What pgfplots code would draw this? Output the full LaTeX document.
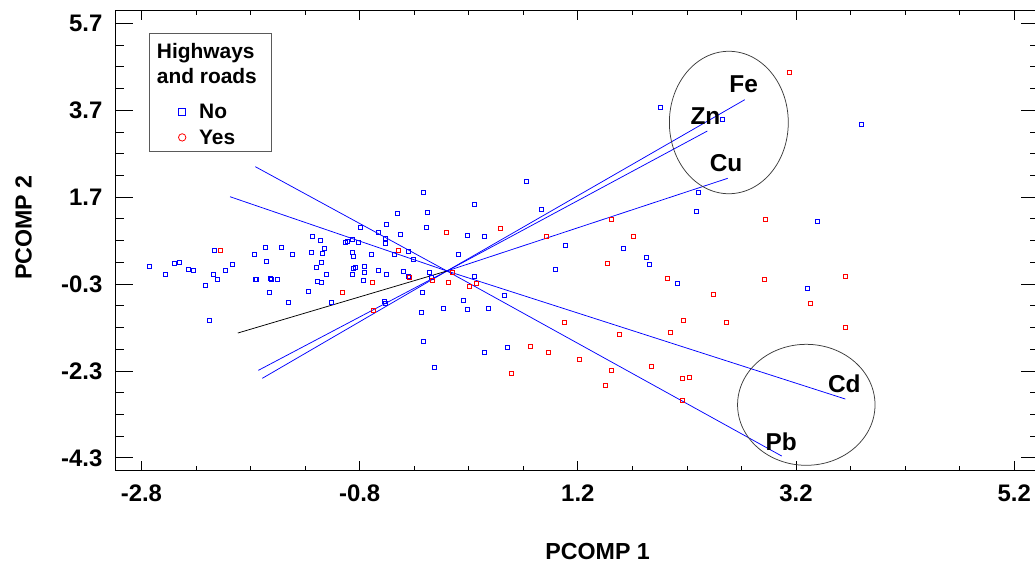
\documentclass[border=0pt]{standalone}
\usepackage{fontspec}
\setmainfont{Liberation Sans}
\usepackage{pgfplots}
\pgfplotsset{compat=1.18}
\definecolor{ptblue}{RGB}{0,0,255}
\definecolor{ptred}{RGB}{255,0,0}
\definecolor{ellgray}{RGB}{60,60,60}
\definecolor{boxgray}{RGB}{90,90,90}
\pgfplotsset{single mark legend/.style={legend image code/.code={\draw[##1] plot coordinates {(0bp,1.8bp)};}}}
\begin{document}
\begin{tikzpicture}
\begin{axis}[
  scale only axis, width=923.3bp, height=459.3bp,
  xmin=-3.036, xmax=5.427, ymin=-4.58, ymax=5.99,
  xtick={-2.8,-0.8,1.2,3.2,5.2}, xticklabels={-2.8,-0.8,1.2,3.2,5.2},
  ytick={-4.3,-2.3,-0.3,1.7,3.7,5.7}, yticklabels={-4.3,-2.3,-0.3,1.7,3.7,5.7},
  minor x tick num=3, minor y tick num=3,
  tick align=inside,
  axis line style={line width=0.9bp},
  xtick style={black, line width=0.7bp, /pgfplots/major tick length=9.3bp, /pgfplots/minor tick length=4.5bp},
  ytick style={black, line width=0.7bp, /pgfplots/major tick length=17.7bp, /pgfplots/minor tick length=8.7bp},
  ticklabel style={font=\fontsize{24}{24}\selectfont\bfseries},
  xticklabel style={anchor=north, inner sep=0pt, yshift=-15bp},
  yticklabel style={anchor=east, inner sep=0pt, xshift=-13.2bp},
  xlabel={PCOMP 1}, ylabel={PCOMP 2},
  label style={font=\fontsize{23.3}{23.3}\selectfont\bfseries},
  xlabel style={at={(axis description cs:0.522,-0.1938)}, anchor=base},
  ylabel style={at={(axis description cs:-0.0910,0.528)}, anchor=base},
  legend cell align=left,
  legend style={at={(axis description cs:0.0678,0.7984)}, anchor=north west,
    draw=none, fill=none, inner sep=0pt, column sep=13.3bp, row sep=5.7bp,
    font=\fontsize{21}{21}\selectfont\bfseries,
    nodes={inner sep=0pt, text height=15bp, text depth=5bp}},
]
% No (blue)
\addplot[forget plot, only marks, mark=square, mark size=2bp, color=ptblue, mark options={line width=1bp}] coordinates {
(-2.728,0.114) (-2.581,-0.086) (-2.495,0.176) (-2.455,0.199) (-2.366,0.038)
(-2.324,0.000) (-2.211,-0.330) (-2.180,-1.135) (-2.128,0.466) (-2.137,-0.086)
(-2.104,-0.192) (-2.031,0.015) (-1.967,0.160) (-1.768,0.384) (-1.759,-0.185)
(-1.750,-0.185) (-1.664,0.545) (-1.655,0.222) (-1.628,-0.500) (-1.621,-0.178)
(-1.612,-0.185) (-1.554,-0.192) (-1.514,0.545) (-1.450,-0.730) (-1.417,0.384)
(-1.270,-0.477) (-1.245,0.430) (-1.236,0.798) (-1.197,0.091) (-1.188,-0.231)
(-1.160,0.706) (-1.154,0.199) (-1.147,-0.254) (-1.138,0.407) (-1.120,0.506)
(-1.105,-0.070) (-1.056,-0.730) (-0.931,0.651) (-0.909,0.674) (-0.867,0.430)
(-0.861,0.729) (-0.858,0.338) (-0.867,-0.070) (-0.854,0.061) (-0.839,0.091)
(-0.812,0.651) (-0.794,1.005) (-0.769,-0.208) (-0.760,0.114) (-0.760,-0.031)
(-0.689,0.384) (-0.631,0.897) (-0.631,0.000) (-0.574,-0.707) (-0.567,-0.744)
(-0.567,0.637) (-0.564,0.752) (-0.558,1.065) (-0.558,-0.086) (-0.485,0.384)
(-0.451,1.327) (-0.425,0.844) (-0.212,1.801) (0.728,2.064) (-0.179,1.350)
(0.251,1.534) (0.865,1.410) (-0.189,1.005) (0.187,0.812) (0.343,0.789)
(1.085,0.591) (1.617,0.506) (-0.354,0.453) (-0.304,0.268) (0.105,0.384)
(1.832,0.321) (1.853,0.153) (0.991,0.038) (-0.402,-0.008) (-0.350,-0.132)
(-0.164,-0.031) (-0.143,-0.139) (0.251,-0.123) (0.530,-0.560) (-0.222,-0.500)
(0.154,-0.684) (-0.033,-0.868) (-0.231,-0.951) (0.187,-0.891) (0.377,-0.868)
(-0.212,-1.628) (0.343,-1.872) (0.554,-1.757) (-0.115,-2.226) (1.956,3.751)
(2.522,3.491) (3.799,3.382) (2.308,1.801) (2.290,1.373) (3.395,1.143)
(2.112,-0.293) (3.304,-0.408)
};
% Yes (red)
\addplot[forget plot, only marks, mark=square, mark size=2bp, color=ptred, mark options={line width=1bp}] coordinates {
(-2.077,0.466) (-0.959,-0.500) (-0.680,-0.254) (-0.671,-0.915) (-0.443,0.466)
(0.000,0.897) (0.490,0.982) (1.507,1.189) (0.909,0.798) (1.709,0.798)
(1.470,0.176) (-0.345,-0.146) (-0.134,-0.215) (0.047,-0.024) (0.017,-0.254)
(0.206,-0.353) (0.273,-0.293) (1.076,-1.181) (1.578,-1.458) (0.768,-1.734)
(0.933,-1.872) (1.217,-2.042) (1.513,-2.286) (1.456,-2.631) (0.590,-2.348)
(3.142,4.572) (2.919,1.189) (2.020,-0.169) (2.909,-0.192) (3.652,-0.123)
(3.331,-0.744) (2.439,-0.537) (2.167,-1.135) (2.561,-1.175) (2.045,-1.421)
(3.652,-1.297) (1.874,-2.203) (2.158,-2.463) (2.222,-2.447) (2.161,-2.986)
};
% variable vectors
\addplot[forget plot, ptblue, line width=0.75bp] coordinates {(-1.692,-2.470) (0,0) (2.730,3.942)};
\addplot[forget plot, ptblue, line width=0.75bp] coordinates {(-1.728,-2.286) (0,0) (2.387,3.221)};
\addplot[forget plot, ptblue, line width=0.75bp] coordinates {(0,0) (2.574,2.133)};
\addplot[forget plot, black, line width=0.75bp] coordinates {(-1.917,-1.428) (0,0)};
\addplot[forget plot, ptblue, line width=0.75bp] coordinates {(-1.988,1.709) (0,0) (3.652,-2.947)};
\addplot[forget plot, ptblue, line width=0.75bp] coordinates {(-1.756,2.400) (0,0) (3.069,-4.259)};
% legend images
\addlegendimage{ptblue, mark=square, mark size=3.7bp, line width=0.8bp, only marks, single mark legend}
\addlegendentry{No}
\addlegendimage{ptred, mark=o, mark size=3.7bp, line width=0.8bp, only marks, single mark legend}
\addlegendentry{Yes}
% ellipses and labels
\draw[ellgray, line width=0.75bp] (axis cs:2.584,3.417) ellipse [x radius=0.545, y radius=1.639];
\draw[ellgray, line width=0.75bp] (axis cs:3.294,-3.080) ellipse [x radius=0.630, y radius=1.392];
\begin{scope}[every node/.style={anchor=base, inner sep=0pt, font=\fontsize{24.5}{24.5}\selectfont\bfseries}]
\node at (axis cs:2.720,4.114) {Fe};
\node at (axis cs:2.370,3.381) {Zn};
\node at (axis cs:2.559,2.300) {Cu};
\node at (axis cs:3.643,-2.793) {Cd};
\node at (axis cs:3.064,-4.126) {Pb};
\end{scope}
% legend box and title
\draw[boxgray, line width=0.9bp] (axis description cs:0.0364,0.9508) rectangle (axis description cs:0.1682,0.6930);
\node[anchor=base west, inner sep=0pt, font=\fontsize{21}{21}\selectfont\bfseries] at (axis description cs:0.0444,0.8964) {Highways};
\node[anchor=base west, inner sep=0pt, font=\fontsize{21}{21}\selectfont\bfseries] at (axis description cs:0.0444,0.8419) {and roads};
\end{axis}
\pgfresetboundingbox
\path ([shift={(-115.7bp,-97bp)}]current axis.south west) rectangle ([shift={(-4bp,10.7bp)}]current axis.north east);
\end{tikzpicture}
\end{document}
